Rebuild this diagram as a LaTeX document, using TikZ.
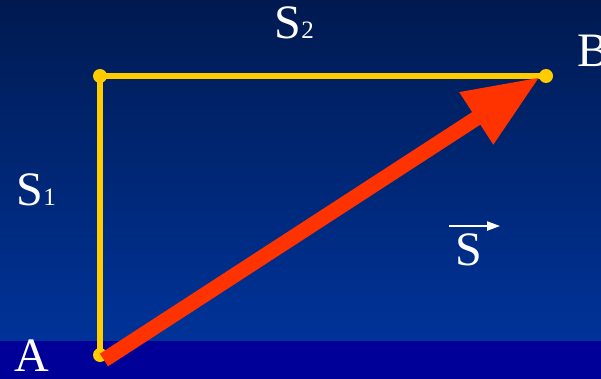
\documentclass[tikz,border=0pt]{standalone}
\usepackage{fontspec}
\setmainfont{Liberation Serif}
\usetikzlibrary{arrows.meta,positioning}
\definecolor{skytop}{RGB}{0,26,80}
\definecolor{skybottom}{RGB}{0,51,153}
\definecolor{floorblue}{RGB}{0,0,153}
\definecolor{pathyellow}{RGB}{255,204,0}
\definecolor{disred}{RGB}{255,51,0}

\begin{document}
\begin{tikzpicture}[
		x=1pt, y=-1pt,
		>=Stealth,
		dot/.style={circle, fill=pathyellow, inner sep=0pt, minimum size=14pt},
		leg/.style={draw=pathyellow, line width=6pt},
		disp/.style={draw=disred, line width=15pt, -{Triangle[length=76pt, width=58pt]}},
		lbl/.style={text=white, inner sep=0pt, font=\fontsize{48}{52}\selectfont},
		sub/.style={text=white, inner sep=0pt, font=\fontsize{25}{27}\selectfont},
		vecbar/.style={draw=white, line width=2pt, -{Triangle[length=13pt, width=9pt]}}
		]
		\useasboundingbox (0,0) rectangle (601,379);
		\clip (0,0) rectangle (601,379);
		
		% Background
		\shade[top color=skytop, bottom color=skybottom] (0,0) rectangle (601,341);
		\fill[floorblue] (0,341) rectangle (601,379);
		
		% Corner points
		\node[dot] (A) at (100,355) {};
		\node[dot] (C) at (100,76) {};
		\node[dot] (B) at (546,76) {};
		\coordinate (start) at (104,360);
		\coordinate (tip) at (540,77);
		
		% Path along the two legs
		\draw[leg] (A.center) -- (C.center) -- (B.center);
		
		% Displacement
		\draw[disp] (start) -- (tip);
		
		% Labels
		\node[lbl, anchor=base west] (lblA) at (14,371) {A};
		\node[lbl, anchor=base west] (lblB) at (577,67) {B};
		\node[lbl, anchor=base west] (s2) at (274,39) {S};
		\node[sub, anchor=base west] (s2n) at (s2.base east) {2};
		\node[lbl, anchor=base west] (s1) at (16,205) {S};
		\node[sub, anchor=base west] (s1n) at (s1.base east) {1};
		\node[lbl, anchor=base west] (svec) at (455,265) {S};
		\draw[vecbar] ([xshift=-6pt, yshift=7pt]svec.north west) -- ([xshift=18pt, yshift=7pt]svec.north east);
	\end{tikzpicture}
\end{document}
